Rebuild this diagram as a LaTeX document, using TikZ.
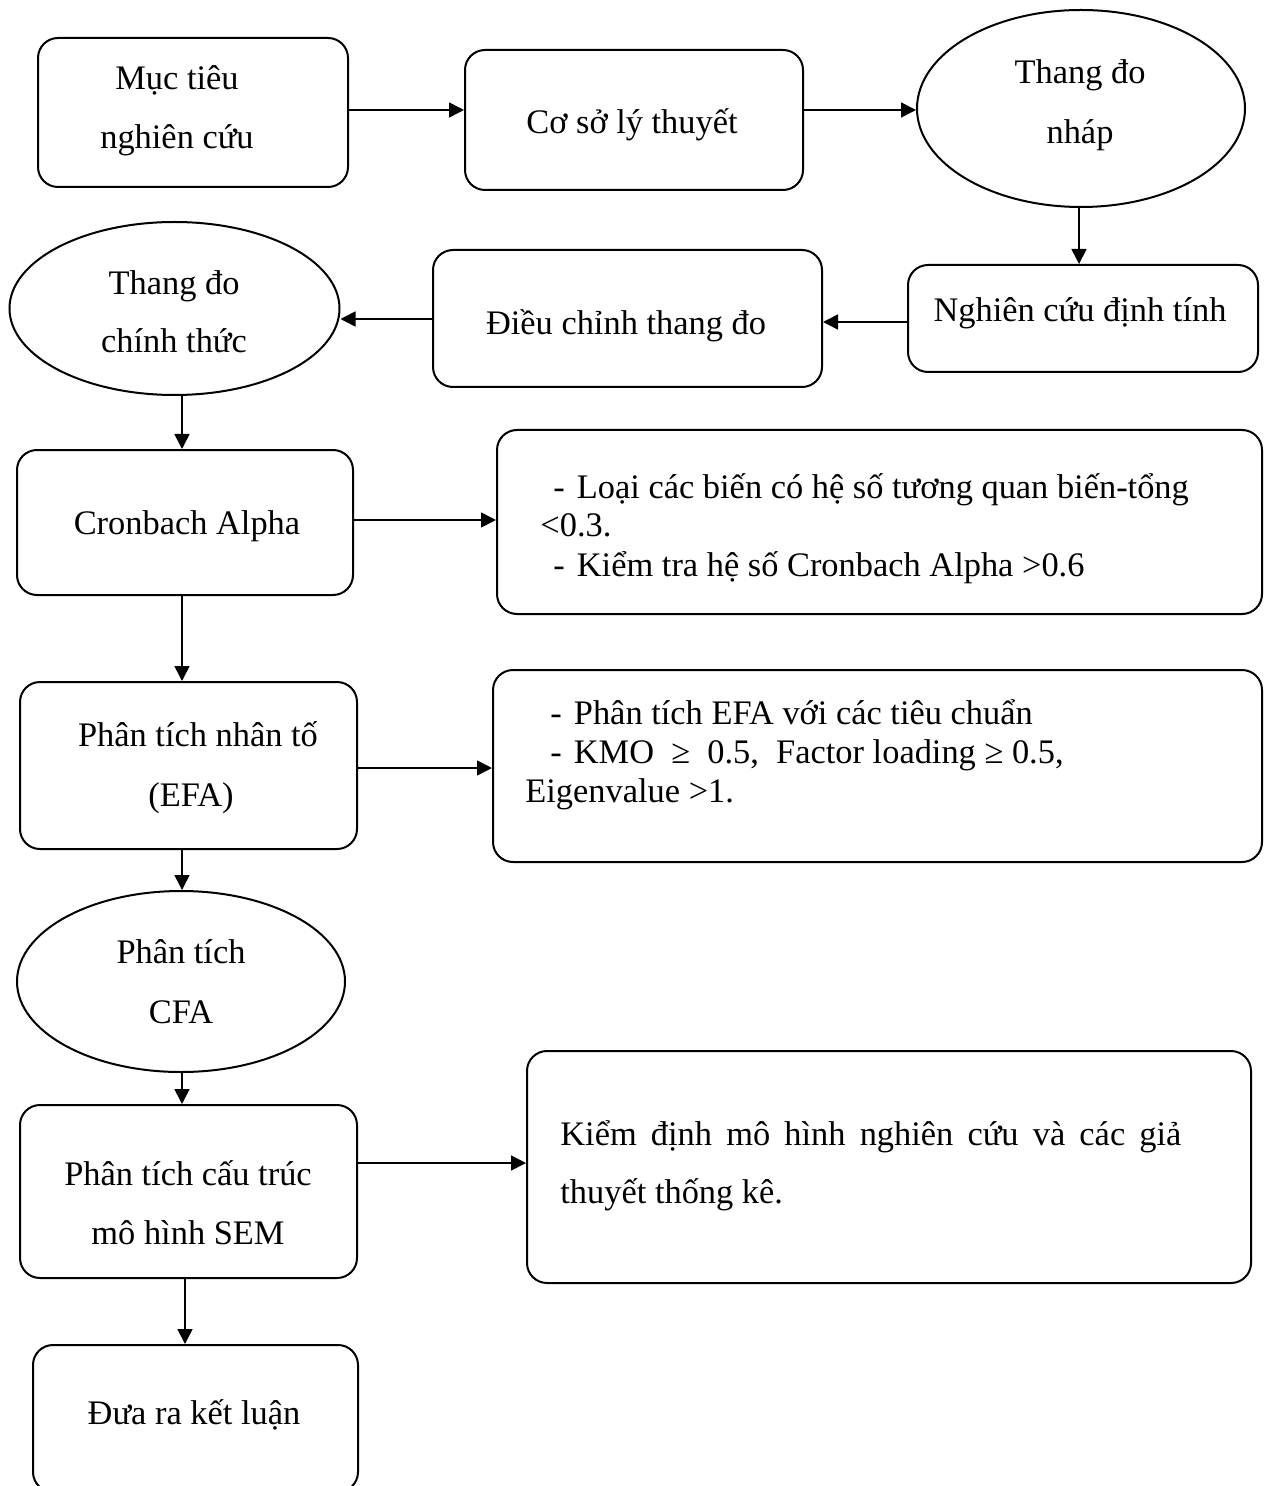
\documentclass[tikz,border=0pt]{standalone}
\usepackage{fontspec}
\setmainfont{Liberation Serif}
\usetikzlibrary{shapes.geometric,arrows.meta}
\begin{document}
\begin{tikzpicture}[x=0.5pt,y=-0.5pt,
  font=\fontsize{17.2}{20}\selectfont,
  rbox/.style={draw, line width=1pt, rounded corners=10pt, inner sep=0pt},
  ell/.style={draw, ellipse, line width=1pt, inner sep=0pt},
  txt/.style={anchor=base, inner sep=0pt},
  ltxt/.style={anchor=base west, inner sep=0pt},
  arr/.style={line width=0.8pt, -{Triangle[length=7.5pt,width=7.5pt]}}]
\useasboundingbox (0,0) rectangle (1269,1486);
\clip (0,0) rectangle (1269,1486);
% shapes
\node[rbox, minimum width=155pt, minimum height=74.5pt] (b1) at (193,112.5) {};
\node[rbox, minimum width=169pt, minimum height=70pt] (b2) at (634,120) {};
\node[ell, minimum width=164pt, minimum height=98.5pt] (e1) at (1081,108.5) {};
\node[rbox, minimum width=175pt, minimum height=53.5pt] (nc) at (1083,318.5) {};
\node[rbox, minimum width=194.5pt, minimum height=68.5pt] (dc) at (627.5,318.5) {};
\node[ell, minimum width=165pt, minimum height=86.5pt] (e2) at (174.5,308.5) {};
\node[rbox, minimum width=168pt, minimum height=72.5pt] (ca) at (185,522.5) {};
\node[rbox, minimum width=382.5pt, minimum height=92pt] (r1) at (879.5,522) {};
\node[rbox, minimum width=168.5pt, minimum height=83.5pt] (efa) at (188.5,765.5) {};
\node[rbox, minimum width=384.5pt, minimum height=96pt] (r2) at (877.5,766) {};
\node[ell, minimum width=164pt, minimum height=90.5pt] (e3) at (181,981.5) {};
\node[rbox, minimum width=168.5pt, minimum height=86.5pt] (sem) at (188.5,1191.5) {};
\node[rbox, minimum width=362pt, minimum height=116pt] (r3) at (889,1167) {};
\node[rbox, minimum width=162.5pt, minimum height=73.5pt] (end) at (195.5,1418.5) {};
% texts
\node[txt] (t1a) at (177,90) {Mục tiêu};
\node[txt] (t1b) at (177,149) {nghiên cứu};
\node[txt] (t2) at (632,134) {Cơ sở lý thuyết};
\node[txt] (t3a) at (1080,84) {Thang đo};
\node[txt] (t3b) at (1080,144) {nháp};
\node[txt] (t4) at (1080,322) {Nghiên cứu định tính};
\node[txt] (t5) at (626,335) {Điều chỉnh thang đo};
\node[txt] (t6a) at (174,295) {Thang đo};
\node[txt] (t6b) at (174,353) {chính thức};
\node[txt] (t7) at (187,534) {Cronbach Alpha};
\node[ltxt] (t8a) at (553,498) {-\hspace{0.35em}Loại các biến có hệ số tương quan biến-tổng};
\node[ltxt] (t8b) at (540,536) {<0.3.};
\node[ltxt] (t8c) at (553,576) {-\hspace{0.35em}Kiểm tra hệ số Cronbach Alpha >0.6};
\node[txt] (t9a) at (198,746) {Phân tích nhân tố};
\node[txt] (t9b) at (191,806) {(EFA)};
\node[ltxt] (t10a) at (550,724) {-\hspace{0.35em}Phân tích EFA với các tiêu chuẩn};
\node[ltxt] (t10b) at (550,763) {-\hspace{0.35em}KMO\ \ ≥\ \ 0.5,\ \ Factor loading ≥ 0.5,};
\node[ltxt] (t10c) at (525,802) {Eigenvalue >1.};
\node[txt] (t11a) at (181,963) {Phân tích};
\node[txt] (t11b) at (181,1023) {CFA};
\node[txt] (t12a) at (188,1185) {Phân tích cấu trúc};
\node[txt] (t12b) at (188,1244) {mô hình SEM};
\node[ltxt] (t13a) at (560,1145) {\makebox[310.5pt][s]{Kiểm định mô hình nghiên cứu và các giả}};
\node[ltxt] (t13b) at (560,1203) {thuyết thống kê.};
\node[txt] (t14) at (194,1424) {Đưa ra kết luận};
% connectors
\draw[arr] (b1.east |- 0,110) -- (b2.west |- 0,110);
\draw[arr] (b2.east |- 0,110) -- (e1.west |- 0,110);
\draw[arr] (e1.south -| 1079,0) -- (nc.north -| 1079,0);
\draw[arr] (nc.west |- 0,322) -- (dc.east |- 0,322);
\draw[arr] (dc.west |- 0,319) -- (e2.east |- 0,319);
\draw[arr] (e2.south -| 182,0) -- (ca.north -| 182,0);
\draw[arr] (ca.east |- 0,520) -- (r1.west |- 0,520);
\draw[arr] (ca.south -| 182,0) -- (efa.north -| 182,0);
\draw[arr] (efa.east |- 0,768) -- (r2.west |- 0,768);
\draw[arr] (efa.south -| 182,0) -- (e3.north -| 182,0);
\draw[arr] (e3.south -| 182,0) -- (sem.north -| 182,0);
\draw[arr] (sem.east |- 0,1163) -- (r3.west |- 0,1163);
\draw[arr] (sem.south -| 185,0) -- (end.north -| 185,0);
\end{tikzpicture}
\end{document}
